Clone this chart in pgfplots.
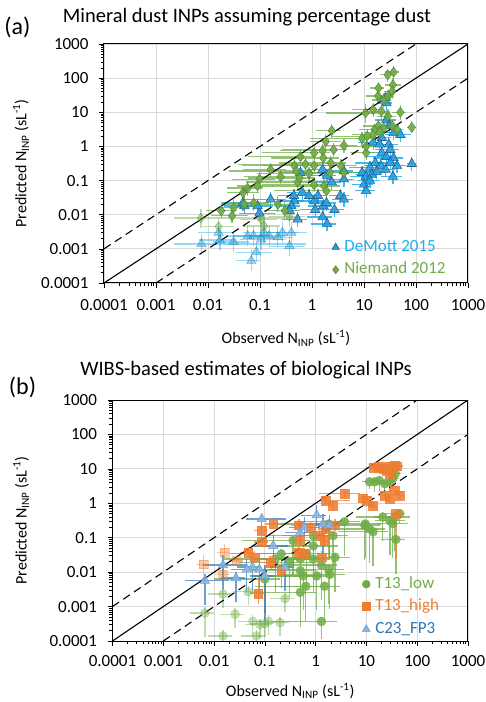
\documentclass[border=0pt]{standalone}
\usepackage{fontspec}
\setmainfont{Carlito}
\usepackage{pgfplots}
\usepackage{pgfplotstable}
\pgfplotsset{compat=1.18}

\definecolor{dmfill}{HTML}{2A9FD8}
\definecolor{dmedge}{HTML}{1F5C99}
\definecolor{dmbar}{HTML}{12AAEA}
\definecolor{dmtext}{HTML}{1AB0EE}
\definecolor{nmfill}{HTML}{70AD47}
\definecolor{nmedge}{HTML}{548235}
\definecolor{nmbar}{HTML}{70AD47}
\definecolor{lowc}{HTML}{70AD47}
\definecolor{highc}{HTML}{ED7D31}
\definecolor{c23fill}{HTML}{8DB4E2}
\definecolor{c23edge}{HTML}{5B9BD5}
\definecolor{c23bar}{HTML}{3F7FC0}
\definecolor{c23text}{HTML}{2E75B6}

\pgfplotstableread{
x y xm xp ym yp
28.5 125 0.3 0.3 0.4 0.5
37 150 0.3 0.3 0.4 0.5
36 63 0.3 0.4 0.4 0.6
18.6 30 0.4 0.5 0.4 0.6
19 51 0.3 0.3 0.4 0.5
24 23 0.4 0.4 0.4 0.6
35 41 0.3 0.3 0.4 0.6
29 29 0.3 0.3 0.4 0.6
10.7 9.5 0.83 2 0.5 0.8
15 12 0.6 0.5 0.4 0.6
21.5 10.7 0.5 0.5 0.4 0.6
50 10 0.3 0.3 0.4 0.6
29 7.6 0.4 0.4 0.4 0.6
83 3.6 0.2 0.2 0.3 0.5
43 3.1 0.3 0.3 0.4 0.5
16 3.1 0.5 0.5 0.4 0.5
19 4 0.5 0.5 0.4 0.5
24 3.5 0.4 0.4 0.4 0.5
35 4 0.3 0.3 0.4 0.5
9.2 1.7 0.9 0.5 0.4 0.6
11.5 2 0.8 0.5 0.4 0.6
15 2.2 0.6 0.5 0.4 0.6
20 2.6 0.5 0.4 0.4 0.6
11 0.65 0.5 0.5 0.4 0.6
11 1.0 0.6 0.5 0.4 0.6
1.84 1.4 0.5 1 0.4 0.6
2.4 2.9 0.5 0.5 0.4 0.6
4.1 1.06 0.6 0.8 0.4 0.6
2.6 0.8 0.9 0.8 0.4 0.6
1.6 0.75 0.85 1 0.4 0.6
1.1 0.65 0.9 1 0.4 0.6
0.6 0.5 0.9 1 0.4 0.6
0.75 0.3 0.95 1 0.4 0.6
1.1 0.27 0.9 2 0.4 0.6
1.65 0.46 0.9 1 0.4 0.6
2.3 0.33 0.9 1 0.4 0.6
3.6 0.27 0.8 1 0.4 0.6
4.1 0.17 0.9 1 0.4 0.6
0.88 0.16 0.9 1.5 0.4 0.6
0.46 0.27 0.9 1 0.4 0.6
0.5 0.19 0.95 1 0.4 0.6
0.53 0.09 0.9 1 0.4 0.6
0.58 0.12 0.9 1 0.4 0.6
0.16 0.21 0.7 1 0.4 0.6
0.25 0.13 0.8 1 0.4 0.6
0.098 0.11 0.7 1 0.4 0.6
0.09 0.07 0.6 1 0.4 0.6
0.058 0.06 0.6 1 0.4 0.6
0.047 0.044 0.5 1 0.4 0.6
0.076 0.022 0.6 1 0.4 0.8
0.05 0.02 0.6 1 0.4 0.8
0.031 0.016 0.5 1 0.4 0.8
0.018 0.013 0.5 1 0.4 0.8
0.029 0.0093 0.6 1 0.4 0.8
1.7 0.07 0.9 1 0.4 0.6
1.9 0.05 0.9 1 0.4 0.6
1.1 0.075 0.9 1 0.4 0.6
2.2 0.17 0.9 1 0.4 0.6
0.22 0.02 0.6 1 0.4 0.8
0.3 0.013 0.6 1 0.4 0.8
}\NMsolid
\pgfplotstableread{
x y xm xp ym yp
0.0073 0.008 0.7 80 0.5 0.8
0.016 0.0045 0.5 1 0.5 0.8
0.105 0.0073 0.6 1 0.5 0.8
0.12 0.0047 0.6 1 0.5 0.8
0.37 0.009 0.6 1 0.5 0.8
}\NMfaded
\pgfplotstableread{
x y xm xp ym yp
25.7 26 0.3 0.3 0.4 0.6
27 18.6 0.3 0.3 0.4 0.6
27 6 0.4 0.5 0.4 0.6
31 4 0.4 0.5 0.4 0.6
37 2.5 0.5 0.5 0.4 0.6
50 2.2 0.5 0.6 0.4 0.6
22 1.8 0.5 0.5 0.4 0.6
15 1.3 0.5 0.5 0.4 0.6
20 1.15 0.5 0.5 0.4 0.6
30 1.15 0.5 0.5 0.4 0.6
32 0.8 0.5 0.5 0.4 0.6
22 0.65 0.5 0.5 0.4 0.6
27 0.5 0.6 0.5 0.4 0.6
37 0.46 0.6 0.5 0.4 0.6
43 0.27 0.5 0.5 0.4 0.6
83 0.31 0.2 0.2 0.4 0.6
16.5 0.33 0.6 0.5 0.4 0.6
21 0.27 0.5 0.5 0.4 0.6
26 0.21 0.5 0.5 0.4 0.6
32 0.33 0.5 0.5 0.4 0.6
13 0.24 0.6 0.5 0.4 0.6
9.2 0.17 0.5 0.5 0.4 0.6
11 0.13 0.5 0.5 0.4 0.6
14 0.15 0.5 0.5 0.4 0.6
17.5 0.18 0.5 0.5 0.4 0.6
36 0.13 0.4 0.5 0.4 0.6
10 0.077 0.4 0.5 0.4 0.6
11 0.05 0.4 0.5 0.4 0.6
13 0.1 0.4 0.5 0.4 0.6
4.1 0.11 0.5 0.5 0.4 0.6
4.1 0.19 0.5 0.5 0.4 0.6
2.4 0.09 0.5 0.5 0.4 0.6
1.95 0.14 0.5 0.5 0.4 0.6
1.6 0.21 0.5 0.5 0.4 0.6
3.5 0.036 0.4 0.5 0.4 0.6
4.1 0.028 0.4 0.5 0.4 0.6
0.6 0.17 0.5 0.5 0.4 0.6
0.65 0.045 0.5 0.5 0.4 0.6
0.88 0.036 0.5 0.5 0.4 0.6
1.1 0.025 0.5 0.5 0.4 0.6
1.3 0.036 0.5 0.5 0.4 0.6
1.15 0.014 0.5 0.5 0.4 0.6
1.65 0.018 0.5 0.5 0.4 0.6
1.9 0.022 0.5 0.5 0.4 0.6
2.7 0.014 0.5 0.5 0.4 0.6
1.6 0.0085 0.5 0.5 0.4 0.6
1.95 0.0054 0.5 0.5 0.4 0.6
0.46 0.025 0.5 0.5 0.4 0.6
0.4 0.018 0.5 0.5 0.4 0.6
0.45 0.036 0.5 0.5 0.4 0.6
0.53 0.0073 0.5 0.5 0.4 0.6
0.37 0.013 0.5 0.5 0.4 0.6
0.16 0.028 0.7 1 0.4 0.6
0.098 0.011 0.6 1 0.4 0.6
0.09 0.018 0.6 1 0.4 0.6
0.05 0.018 0.6 1 0.4 0.6
0.047 0.022 0.6 1 0.4 0.6
}\DMsolid
\pgfplotstableread{
x y xm xp ym yp
0.058 0.0024 0.6 1 0.5 1
0.075 0.0024 0.6 1 0.5 1
0.105 0.0019 0.6 2 0.5 1
0.12 0.003 0.6 1 0.5 1
0.15 0.0024 0.6 1 0.5 1
0.22 0.0022 0.6 1 0.5 1
0.27 0.003 0.6 1 0.5 1
0.37 0.0012 0.6 1 0.5 1
0.4 0.003 0.6 1 0.5 1
0.085 0.0008 0.6 1 0.5 1
0.068 0.00045 0.5 0.5 0.5 1
0.031 0.0016 0.6 1 0.5 1
0.017 0.0018 0.6 1 0.5 1
0.0075 0.0014 0.7 100 0.5 1
0.016 0.003 0.6 1 0.5 1
}\DMfaded
\pgfplotstableread{
x y xm xp ym yp
14 11 0.3 0.3 0.2 0.3
17 10.5 0.3 0.3 0.2 0.3
18 11.4 0.3 0.3 0.2 0.3
22 10 0.3 0.3 0.2 0.3
29 11.4 0.3 0.3 0.2 0.3
36 12.5 0.3 0.3 0.2 0.3
29 7.2 0.3 0.3 0.2 0.3
25 9 0.3 0.3 0.2 0.3
40 12 0.3 0.3 0.2 0.3
8.6 1.4 0.2 0.2 0.2 0.3
10 1.2 0.2 0.2 0.2 0.3
13.5 0.83 0.2 0.2 0.2 0.3
23 1.7 0.2 0.2 0.2 0.3
29 1.35 0.2 0.2 0.2 0.3
36 2.4 0.2 0.2 0.2 0.3
46 1.7 0.2 0.2 0.2 0.3
38 0.49 0.2 0.2 0.95 0.3
3.8 1.9 0.7 1 0.2 0.3
1.6 1.2 0.3 2 0.2 0.3
2.2 0.87 0.2 0.2 0.3 0.3
0.146 0.25 0.3 0.3 0.3 0.5
0.087 0.16 0.3 0.3 0.3 0.5
0.47 0.23 0.3 0.3 0.3 0.5
0.49 0.083 0.3 0.3 0.3 0.5
0.8 0.2 0.3 0.3 0.3 0.5
1.2 0.115 0.3 0.3 0.3 0.5
1.6 0.18 0.3 0.3 0.3 0.5
1.5 0.083 0.3 0.3 0.3 0.5
2.4 0.23 0.3 0.3 0.3 0.5
0.47 0.037 0.3 0.3 0.3 0.5
0.6 0.034 0.3 0.3 0.3 0.5
1.3 0.027 0.3 0.3 0.3 0.5
0.087 0.075 0.3 0.3 0.3 0.5
0.047 0.037 0.3 0.3 0.3 0.5
0.063 0.027 0.3 0.3 0.3 0.5
0.127 0.019 0.3 0.3 0.3 0.5
0.21 0.012 0.3 0.3 0.3 0.5
0.074 0.0024 0.3 0.3 0.5 2
}\HIsolid
\pgfplotstableread{
x y xm xp ym yp
0.016 0.037 0.3 0.3 0.3 0.8
0.028 0.021 0.3 0.3 0.3 0.5
0.0062 0.017 0.3 0.3 0.5 0.8
0.015 0.0085 0.3 0.3 0.3 0.5
}\HIfaded
\pgfplotstableread{
x y xm xp ym yp
11.5 4.2 0.3 0.3 0.4 0.3
14.6 4.2 0.3 0.3 0.5 0.3
18 4.6 0.3 0.3 0.5 0.3
23 3.7 0.3 0.3 0.5 0.3
29 4.2 0.3 0.3 0.5 0.3
33 5.3 0.3 0.3 0.5 0.3
37 7.3 0.3 0.3 0.5 0.3
9.3 0.23 0.8 1 0.9 0.3
11.5 0.18 0.8 1 0.9 0.3
13.5 0.15 0.8 1 0.9 0.3
21 0.4 0.7 1 0.8 0.3
29 0.31 0.5 1 0.9 0.3
33 0.26 0.5 1 0.9 0.3
36 0.4 0.6 1 0.9 0.3
38 0.089 0.5 0.5 0.9 0.3
45 0.5 0.5 0.3 0.5 0.3
9.5 0.25 0.8 1 0.9 0.3
3.7 0.29 0.9 1 0.9 0.3
1.8 0.25 0.9 1 0.9 0.3
2.2 0.115 0.9 1 0.9 0.3
0.9 0.115 0.9 1 0.9 0.3
0.9 0.024 0.9 1 0.9 0.3
0.5 0.011 0.9 1 0.9 0.3
0.57 0.0078 0.9 1 0.9 0.3
0.5 0.0026 0.9 1 0.9 0.3
0.64 0.0039 0.9 1 0.9 0.3
1.3 0.016 0.9 1 0.9 0.3
1.8 0.012 0.9 1 0.9 0.3
1.9 0.0086 0.9 1 0.9 0.3
1.05 0.0078 0.9 1 0.9 0.3
1.5 0.0039 0.9 1 0.9 0.3
2.4 0.027 0.9 1 0.9 0.3
1.3 0.00037 0.9 1 0.7 0.3
0.16 0.024 0.9 2 0.9 0.3
0.31 0.019 0.9 2 0.9 0.3
0.5 0.024 0.9 2 0.9 0.3
0.21 0.034 0.9 2 0.9 0.3
0.36 0.083 0.9 2 0.9 0.3
0.67 0.034 0.9 2 0.9 0.3
0.9 0.058 0.9 2 0.9 0.3
0.1 0.0063 0.9 1 0.9 0.3
}\LOsolid
\pgfplotstableread{
x y xm xp ym yp
0.1 0.00032 0.5 0.5 0.6 0.5
0.117 0.00037 0.5 0.5 0.6 0.5
0.2 0.00034 0.5 0.5 0.6 0.5
0.08 0.0003 0.5 0.5 0.6 0.5
0.058 0.00037 0.5 0.5 0.6 0.5
0.047 0.0027 0.5 0.5 0.6 0.5
0.026 0.0006 0.5 0.5 0.6 0.5
0.015 0.0023 0.5 0.5 0.6 0.5
0.0066 0.00065 0.5 0.5 0.8 0.5
0.015 0.00014 0.5 0.5 0.3 0.5
0.068 0.00014 0.5 0.5 0.3 0.5
0.25 0.0017 0.5 0.5 0.6 0.5
}\LOfaded
\pgfplotstableread{
x y xm xp ym yp
0.087 0.35 0.5 2 0.5 0.5
0.146 0.058 0.6 1 0.5 1
0.49 0.14 0.5 1 0.5 1
0.6 0.2 0.5 1 0.5 1
1.05 0.45 0.5 0.5 0.5 1
1.4 0.25 0.5 0.5 0.9 1
1.9 0.23 0.5 0.5 0.9 1
0.057 0.014 0.5 0.5 0.8 1
0.027 0.0067 0.5 0.5 0.8 0.5
0.0066 0.0057 0.6 2 0.8 0.5
0.015 0.016 0.6 2 0.8 1
0.1 0.0078 0.5 0.5 0.95 1
0.078 0.012 0.5 1 0.8 1
0.25 0.014 0.5 0.5 0.8 1
0.044 0.012 0.5 0.5 0.8 1
}\CTsolid

\begin{document}
\begin{tikzpicture}
\useasboundingbox (0pt,0pt) rectangle (486pt,702pt);

% ================= Panel (a)
\begin{axis}[xmode=log, ymode=log,
    xmin=1e-4, xmax=1e3, ymin=1e-4, ymax=1e3,
    scale only axis, width=364pt, height=239pt,
    at={(104pt,419pt)}, anchor=south west,
    xtick={1e-4,1e-3,1e-2,1e-1,1,10,100,1000},
    ytick={1e-4,1e-3,1e-2,1e-1,1,10,100,1000},
    xticklabels={0.0001,0.001,0.01,0.1,1,10,100,1000},
    yticklabels={0.0001,0.001,0.01,0.1,1,10,100,1000},
    minor xtick={2e-4,3e-4,4e-4,5e-4,6e-4,7e-4,8e-4,9e-4,2e-3,3e-3,4e-3,5e-3,6e-3,7e-3,8e-3,9e-3,2e-2,3e-2,4e-2,5e-2,6e-2,7e-2,8e-2,9e-2,0.2,0.3,0.4,0.5,0.6,0.7,0.8,0.9,2,3,4,5,6,7,8,9,20,30,40,50,60,70,80,90,200,300,400,500,600,700,800,900},
    minor ytick={2e-4,3e-4,4e-4,5e-4,6e-4,7e-4,8e-4,9e-4,2e-3,3e-3,4e-3,5e-3,6e-3,7e-3,8e-3,9e-3,2e-2,3e-2,4e-2,5e-2,6e-2,7e-2,8e-2,9e-2,0.2,0.3,0.4,0.5,0.6,0.7,0.8,0.9,2,3,4,5,6,7,8,9,20,30,40,50,60,70,80,90,200,300,400,500,600,700,800,900},
    tick pos=left, tick align=outside,
    major tick length=5pt, minor tick length=3pt,
    major tick style={black, line width=0.7pt},
    minor tick style={black, line width=0.6pt},
    xmajorgrids, ymajorgrids,
    major grid style={color=black!15, line width=0.9pt},
    axis line style={line width=1pt},
    tick label style={font=\fontsize{17}{19}\selectfont},
    yticklabel style={xshift=-7pt},
    xticklabel style={yshift=-8pt},
    xlabel={Observed N\textsubscript{INP} (sL\textsuperscript{-1})},
    ylabel={Predicted N\textsubscript{INP} (sL\textsuperscript{-1})},
    xlabel style={font=\fontsize{16}{19}\selectfont, at={(axis description cs:0.5,-0.23)}, anchor=center},
    ylabel style={font=\fontsize{16}{19}\selectfont, at={(axis description cs:-0.228,0.5)}, anchor=center},
    legend style={draw=none, fill=none, font=\fontsize{17}{20}\selectfont, at={(0.626,0.188)}, anchor=north west,
      inner sep=0pt, nodes={inner sep=1pt, text height=12pt, text depth=4pt}, row sep=4.5pt, /tikz/every odd column/.append style={column sep=4pt}},
    legend cell align=left,
]
\addlegendimage{only marks, mark=triangle*, mark size=4.2pt, mark options={fill=dmfill, draw=dmedge, line width=0.6pt}}
\addlegendentry{\textcolor{dmtext}{DeMott 2015}}
\addlegendimage{only marks, mark=diamond*, mark size=4pt, mark options={fill=nmfill, draw=nmedge, line width=0.5pt}}
\addlegendentry{\textcolor{nmfill}{Niemand 2012}}

\addplot[forget plot, only marks, mark=triangle*, mark size=5.5pt, mark options={fill=dmfill, draw=dmedge, line width=0.5pt, opacity=0.45},
  error bars/.cd, x dir=both, x explicit relative, y dir=both, y explicit relative, error mark=none,
  error bar style={color=dmbar, line width=1.3pt, opacity=0.45}]
  table[x=x,y=y,x error minus=xm,x error plus=xp,y error minus=ym,y error plus=yp]{\DMfaded};
\addplot[forget plot, only marks, mark=diamond*, mark size=5pt, mark options={fill=nmfill, draw=nmedge, line width=0.5pt, opacity=0.45},
  error bars/.cd, x dir=both, x explicit relative, y dir=both, y explicit relative, error mark=none,
  error bar style={color=nmbar, line width=1.3pt, opacity=0.45}]
  table[x=x,y=y,x error minus=xm,x error plus=xp,y error minus=ym,y error plus=yp]{\NMfaded};
\addplot[forget plot, only marks, mark=triangle*, mark size=5.5pt, mark options={fill=dmfill, draw=dmedge, line width=0.6pt, opacity=0.9},
  error bars/.cd, x dir=both, x explicit relative, y dir=both, y explicit relative, error mark=none,
  error bar style={color=dmbar, line width=1.3pt, opacity=0.8}]
  table[x=x,y=y,x error minus=xm,x error plus=xp,y error minus=ym,y error plus=yp]{\DMsolid};
\addplot[forget plot, only marks, mark=diamond*, mark size=5pt, mark options={fill=nmfill, draw=nmedge, line width=0.5pt, opacity=0.9},
  error bars/.cd, x dir=both, x explicit relative, y dir=both, y explicit relative, error mark=none,
  error bar style={color=nmbar, line width=1.3pt, opacity=0.75}]
  table[x=x,y=y,x error minus=xm,x error plus=xp,y error minus=ym,y error plus=yp]{\NMsolid};

\addplot[forget plot, black, line width=1.1pt] coordinates {(1e-4,1e-4) (1e3,1e3)};
\addplot[forget plot, black, line width=1.1pt, dash pattern=on 8pt off 5pt] coordinates {(1e-4,1e-3) (1e2,1e3)};
\addplot[forget plot, black, line width=1.1pt, dash pattern=on 8pt off 5pt] coordinates {(1e-3,1e-4) (1e3,1e2)};
\end{axis}
\node at (247pt,685pt) {\fontsize{20.5}{24}\selectfont Mineral dust INPs assuming percentage dust};
\node at (17.5pt,674.5pt) {\fontsize{24}{28}\selectfont (a)};

% ================= Panel (b)
\begin{axis}[xmode=log, ymode=log,
    xmin=1e-4, xmax=1e3, ymin=1e-4, ymax=1e3,
    scale only axis, width=355.5pt, height=241pt,
    at={(112.5pt,61pt)}, anchor=south west,
    xtick={1e-4,1e-3,1e-2,1e-1,1,10,100,1000},
    ytick={1e-4,1e-3,1e-2,1e-1,1,10,100,1000},
    xticklabels={0.0001,0.001,0.01,0.1,1,10,100,1000},
    yticklabels={0.0001,0.001,0.01,0.1,1,10,100,1000},
    minor xtick={2e-4,3e-4,4e-4,5e-4,6e-4,7e-4,8e-4,9e-4,2e-3,3e-3,4e-3,5e-3,6e-3,7e-3,8e-3,9e-3,2e-2,3e-2,4e-2,5e-2,6e-2,7e-2,8e-2,9e-2,0.2,0.3,0.4,0.5,0.6,0.7,0.8,0.9,2,3,4,5,6,7,8,9,20,30,40,50,60,70,80,90,200,300,400,500,600,700,800,900},
    minor ytick={2e-4,3e-4,4e-4,5e-4,6e-4,7e-4,8e-4,9e-4,2e-3,3e-3,4e-3,5e-3,6e-3,7e-3,8e-3,9e-3,2e-2,3e-2,4e-2,5e-2,6e-2,7e-2,8e-2,9e-2,0.2,0.3,0.4,0.5,0.6,0.7,0.8,0.9,2,3,4,5,6,7,8,9,20,30,40,50,60,70,80,90,200,300,400,500,600,700,800,900},
    tick pos=left, tick align=outside,
    major tick length=5pt, minor tick length=3pt,
    major tick style={black, line width=0.7pt},
    minor tick style={black, line width=0.6pt},
    xmajorgrids, ymajorgrids,
    major grid style={color=black!15, line width=0.9pt},
    axis line style={line width=1pt},
    tick label style={font=\fontsize{17}{19}\selectfont},
    yticklabel style={xshift=-7pt},
    xticklabel style={yshift=-6pt},
    xlabel={Observed N\textsubscript{INP} (sL\textsuperscript{-1})},
    ylabel={Predicted N\textsubscript{INP} (sL\textsuperscript{-1})},
    xlabel style={font=\fontsize{16}{19}\selectfont, at={(axis description cs:0.5,-0.207)}, anchor=center},
    ylabel style={font=\fontsize{16}{19}\selectfont, at={(axis description cs:-0.257,0.5)}, anchor=center},
    legend style={draw=none, fill=none, font=\fontsize{17}{20}\selectfont, at={(0.702,0.274)}, anchor=north west,
      inner sep=0pt, nodes={inner sep=1pt, text height=12pt, text depth=4pt}, row sep=4.5pt, /tikz/every odd column/.append style={column sep=4pt}},
    legend cell align=left,
]
\addlegendimage{only marks, mark=*, mark size=4pt, mark options={fill=lowc, draw=lowc}}
\addlegendentry{\textcolor{lowc}{T13\_low}}
\addlegendimage{only marks, mark=square*, mark size=4pt, mark options={fill=highc, draw=highc}}
\addlegendentry{\textcolor{highc}{T13\_high}}
\addlegendimage{only marks, mark=triangle*, mark size=4.5pt, mark options={fill=c23fill, draw=c23edge}}
\addlegendentry{\textcolor{c23text}{C23\_FP3}}

\addplot[forget plot, only marks, mark=*, mark size=4.5pt, mark options={fill=lowc, draw=lowc, opacity=0.4},
  error bars/.cd, x dir=both, x explicit relative, y dir=both, y explicit relative, error mark=none,
  error bar style={color=lowc, line width=1.3pt, opacity=0.45}]
  table[x=x,y=y,x error minus=xm,x error plus=xp,y error minus=ym,y error plus=yp]{\LOfaded};
\addplot[forget plot, only marks, mark=square*, mark size=4.4pt, mark options={fill=highc, draw=highc, opacity=0.4},
  error bars/.cd, x dir=both, x explicit relative, y dir=both, y explicit relative, error mark=none,
  error bar style={color=highc, line width=1.3pt, opacity=0.45}]
  table[x=x,y=y,x error minus=xm,x error plus=xp,y error minus=ym,y error plus=yp]{\HIfaded};
\addplot[forget plot, only marks, mark=*, mark size=4.5pt, mark options={fill=lowc, draw=lowc, opacity=0.85},
  error bars/.cd, x dir=both, x explicit relative, y dir=both, y explicit relative, error mark=none,
  error bar style={color=lowc, line width=1.3pt, opacity=0.75}]
  table[x=x,y=y,x error minus=xm,x error plus=xp,y error minus=ym,y error plus=yp]{\LOsolid};
\addplot[forget plot, only marks, mark=square*, mark size=4.4pt, mark options={fill=highc, draw=highc, opacity=0.85},
  error bars/.cd, x dir=both, x explicit relative, y dir=both, y explicit relative, error mark=none,
  error bar style={color=highc, line width=1.3pt, opacity=0.75}]
  table[x=x,y=y,x error minus=xm,x error plus=xp,y error minus=ym,y error plus=yp]{\HIsolid};
\addplot[forget plot, only marks, mark=triangle*, mark size=5.5pt, mark options={fill=c23fill, draw=c23edge, line width=0.5pt, opacity=0.85},
  error bars/.cd, x dir=both, x explicit relative, y dir=both, y explicit relative, error mark=none,
  error bar style={color=c23bar, line width=1.3pt, opacity=0.75}]
  table[x=x,y=y,x error minus=xm,x error plus=xp,y error minus=ym,y error plus=yp]{\CTsolid};

\addplot[forget plot, black, line width=1.1pt] coordinates {(1e-4,1e-4) (1e3,1e3)};
\addplot[forget plot, black, line width=1.1pt, dash pattern=on 8pt off 5pt] coordinates {(1e-4,1e-3) (1e2,1e3)};
\addplot[forget plot, black, line width=1.1pt, dash pattern=on 8pt off 5pt] coordinates {(1e-3,1e-4) (1e3,1e2)};
\end{axis}
\node at (246pt,332pt) {\fontsize{20.5}{24}\selectfont WIBS-based estimates of biological INPs};
\node at (22.5pt,315pt) {\fontsize{24}{28}\selectfont (b)};
\end{tikzpicture}
\end{document}
